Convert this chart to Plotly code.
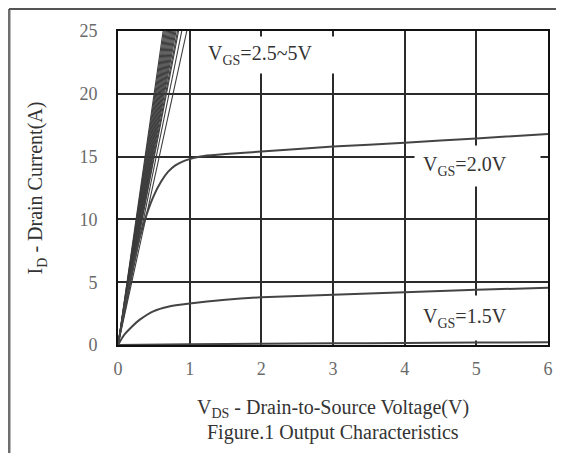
import plotly.graph_objects as go

# ---- data ----
# VGS = 2.5 ~ 5 V bundle: drain voltage at which each line reaches 25 A
bundle_vds_at_25 = [0.63, 0.645, 0.66, 0.675, 0.69, 0.705, 0.72, 0.735, 0.75, 0.765,
                    0.78, 0.795, 0.81, 0.83, 0.845, 0.89, 0.96]
bundle_id_end = 25

vds_20 = [0, 0.1, 0.2, 0.3, 0.4, 0.5, 0.6, 0.7, 0.8, 0.9, 1.0, 1.1, 1.2, 1.5, 2, 3, 4, 5, 6]
id_20 = [0, 3.2, 6.0, 8.5, 10.4, 11.9, 13.0, 13.8, 14.3, 14.6, 14.8, 14.95, 15.05, 15.2, 15.4, 15.8, 16.1, 16.45, 16.8]

vds_15 = [0, 0.05, 0.1, 0.2, 0.3, 0.5, 0.7, 1.0, 1.5, 2, 3, 4, 5, 6]
id_15 = [0, 0.5, 0.9, 1.5, 2.0, 2.7, 3.05, 3.3, 3.6, 3.8, 4.0, 4.2, 4.4, 4.55]

vds_10 = [0, 1, 2, 3, 4, 5, 6]
id_10 = [0, 0.06, 0.1, 0.13, 0.16, 0.19, 0.22]

x_ticks = [0, 1, 2, 3, 4, 5, 6]
y_ticks = [0, 5, 10, 15, 20, 25]

SERIF = "Liberation Serif, Times New Roman, serif"
TXT = "#333333"

fig = go.Figure()

for v in bundle_vds_at_25:
    fig.add_trace(go.Scatter(x=[0, v], y=[0, bundle_id_end], mode="lines",
                             line=dict(color="#3c3c3c", width=1.1),
                             showlegend=False, hoverinfo="skip"))

for xs, ys in [(vds_20, id_20), (vds_15, id_15), (vds_10, id_10)]:
    fig.add_trace(go.Scatter(x=xs, y=ys, mode="lines",
                             line=dict(color="#444444", width=2, shape="spline", smoothing=0.6),
                             showlegend=False, hoverinfo="skip"))

axis_common = dict(showgrid=True, gridcolor="#2b2b2b", gridwidth=1.6,
                   showline=True, linecolor="#111111", linewidth=2, mirror=True,
                   zeroline=False, ticks="",
                   tickfont=dict(family=SERIF, size=18, color="#6a6a6a"))

fig.update_xaxes(range=[0, 6], tickvals=x_ticks, ticklabelstandoff=6,
                 title=dict(text="V<sub>DS</sub> - Drain-to-Source Voltage(V)",
                            font=dict(family=SERIF, size=20, color=TXT), standoff=22),
                 **axis_common)
fig.update_yaxes(range=[0, 25], tickvals=y_ticks, ticklabelstandoff=15,
                 title=dict(text="I<sub>D</sub> - Drain Current(A)",
                            font=dict(family=SERIF, size=20, color=TXT), standoff=31),
                 **axis_common)

ann_font = dict(family=SERIF, size=20, color=TXT)
fig.add_annotation(x=1.144, y=23.09, xref="x", yref="y", xanchor="left", yanchor="middle",
                   text="V<sub>GS</sub>=2.5~5V", showarrow=False, font=ann_font,
                   bgcolor="white", borderpad=7, width=126, height=22, align="left")
fig.add_annotation(x=4.128, y=14.25, xref="x", yref="y", xanchor="left", yanchor="middle",
                   text="V<sub>GS</sub>=2.0V", showarrow=False, font=ann_font,
                   bgcolor="white", borderpad=8, width=109, height=24, align="left")
fig.add_annotation(x=4.142, y=2.15, xref="x", yref="y", xanchor="left", yanchor="middle",
                   text="V<sub>GS</sub>=1.5V", showarrow=False, font=ann_font,
                   bgcolor="white", borderpad=7, width=111, height=30, align="left")

fig.add_annotation(x=0.5, y=-0.28, xref="paper", yref="paper", xanchor="center", yanchor="middle",
                   text="Figure.1 Output Characteristics", showarrow=False, font=ann_font)

# outer figure frame (left, top, right edges)
fig.add_shape(type="line", xref="paper", yref="paper", x0=-0.2535, x1=-0.2535, y0=1.070, y1=-0.40,
              line=dict(color="#6e6e6e", width=3))
fig.add_shape(type="line", xref="paper", yref="paper", x0=-0.2535, x1=1.04, y0=1.070, y1=1.070,
              line=dict(color="#555555", width=2))
fig.add_shape(type="line", xref="paper", yref="paper", x0=1.0326, x1=1.0326, y0=1.070, y1=-0.40,
              line=dict(color="#dddddd", width=1))

# page body has an 8px default margin, so the figure is sized to fit inside the window
fig.update_layout(width=556, height=445, margin=dict(l=110, r=16, t=23, b=108),
                  paper_bgcolor="white", plot_bgcolor="white")

fig.write_html("out.html")
